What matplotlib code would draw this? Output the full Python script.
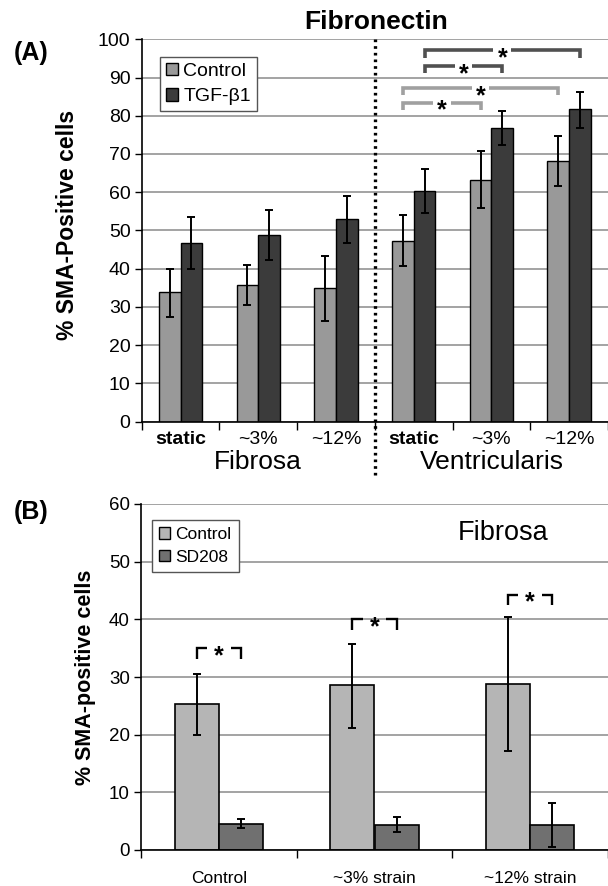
import numpy as np
import matplotlib
matplotlib.use("Agg")
import matplotlib.pyplot as plt
import matplotlib.transforms as mtransforms
from matplotlib.patches import Patch

plt.rcParams['font.family'] = ['Liberation Sans', 'DejaVu Sans']

# # data, panel A (Fibronectin)
cats_a = ['static', '~3%', '~12%', 'static', '~3%', '~12%']
ctrl_a = [33.8, 35.8, 35.0, 47.2, 63.3, 68.2]
ctrl_a_lo = [27.3, 30.5, 26.3, 40.6, 55.8, 61.7]
ctrl_a_hi = [39.8, 41.0, 43.3, 53.9, 70.7, 74.6]
tgf_a = [46.8, 48.9, 53.1, 60.3, 76.9, 81.8]
tgf_a_lo = [40.0, 42.3, 46.7, 54.5, 72.3, 76.8]
tgf_a_hi = [53.5, 55.3, 59.0, 66.0, 81.3, 86.3]
groups_a = ['Fibrosa', 'Ventricularis']

# brackets: (from index, to index, series, y top)
brackets_a = [(3, 5, 'tgf', 97.1), (3, 4, 'tgf', 93.0),
              (3, 5, 'ctrl', 87.3), (3, 4, 'ctrl', 83.4)]

# # data, panel B (Fibrosa, SD208)
cats_b = ['Control', '~3% strain', '~12% strain']
ctrl_b = [25.3, 28.6, 28.8]
ctrl_b_lo = [19.9, 21.2, 17.1]
ctrl_b_hi = [30.5, 35.8, 40.4]
sd_b = [4.5, 4.4, 4.4]
sd_b_lo = [3.8, 3.2, 0.6]
sd_b_hi = [5.3, 5.7, 8.2]
brackets_b = [35.0, 40.0, 44.3]

W, H = 608, 886
fig = plt.figure(figsize=(W/100, H/100), dpi=100)

def px_axes(x0, y0, x1, y1):
    return fig.add_axes([x0/W, 1-y1/H, (x1-x0)/W, (y1-y0)/H])

def style_axes(ax, fs):
    ax.spines['top'].set_visible(False)
    ax.spines['right'].set_visible(False)
    ax.spines['left'].set_linewidth(1.2)
    ax.spines['bottom'].set_linewidth(1.2)
    ax.yaxis.grid(True, color='#8a8a8a', lw=1.1)
    ax.set_axisbelow(True)
    ax.tick_params(axis='y', direction='out', length=5, width=1, labelsize=fs, pad=3)
    ax.tick_params(axis='x', which='major', length=0)
    ax.tick_params(axis='x', which='minor', direction='out', length=6, width=1)

def err(ax, xs, vals, lo, hi):
    for xi, v, l, h in zip(xs, vals, lo, hi):
        ax.errorbar(xi, v, yerr=[[v-l], [h-v]], color='black', lw=1.4,
                    capsize=3.2, capthick=1.4, zorder=3)

def bracket(ax, x0, x1, yt, drop, gap, col, lw, fs):
    xm = (x0 + x1) / 2.0
    ax.plot([x0, x0, xm - gap/2], [yt - drop, yt, yt], color=col, lw=lw, zorder=3,
            solid_joinstyle='miter', solid_capstyle='butt')
    ax.plot([xm + gap/2, x1, x1], [yt, yt, yt - drop], color=col, lw=lw, zorder=3,
            solid_joinstyle='miter', solid_capstyle='butt')
    # asterisk glyph sits high in its em box, so put the baseline below the line
    tr = mtransforms.offset_copy(ax.transData, fig=fig, x=0, y=-0.6*fs, units='points')
    ax.text(xm, yt, '*', ha='center', va='baseline', fontsize=fs, fontweight='bold',
            transform=tr, zorder=4)

# ---------- panel A ----------
A_left, A_top, A_bot = 141.7, 39.3, 421.5
catw_a = 79.0
axA = px_axes(A_left, A_top, W, A_bot)
style_axes(axA, 14)
x = np.arange(len(cats_a))
bw = 0.28
off = 0.14
axA.bar(x - off, ctrl_a, bw, color='#999999', edgecolor='black', lw=1, zorder=2)
axA.bar(x + off, tgf_a, bw, color='#3b3b3b', edgecolor='black', lw=1, zorder=2)
err(axA, x - off, ctrl_a, ctrl_a_lo, ctrl_a_hi)
err(axA, x + off, tgf_a, tgf_a_lo, tgf_a_hi)
axA.set_ylim(0, 100)
axA.set_yticks(np.arange(0, 101, 10))
axA.set_xlim(-0.5, -0.5 + (W - A_left)/catw_a)
axA.set_xticks(x)
axA.set_xticklabels(cats_a, fontsize=14)
for lbl in axA.get_xticklabels():
    if lbl.get_text() == 'static':
        lbl.set_fontweight('bold')
axA.set_xticks(np.arange(-0.5, 6.0, 1), minor=True)
axA.tick_params(axis='x', pad=7)

for gi, g in enumerate(groups_a):
    axA.text(1 + 3*gi, -10.5, g, ha='center', va='center', fontsize=19)

# dotted divider
axA.plot([2.5, 2.5], [100, -14.3], ls=(0, (0.8, 1.2)), color='black', lw=2.4,
         clip_on=False, zorder=4)
fig.text(376/W, 1-22/H, 'Fibronectin', ha='center', va='center', fontsize=19, fontweight='bold')

for i0, i1, s, yt in brackets_a:
    o = off if s == 'tgf' else -off
    col = '#505050' if s == 'tgf' else '#a0a0a0'
    bracket(axA, i0 + o, i1 + o, yt, 1.9, 0.23, col, 2.6, 18)

legA = axA.legend(handles=[Patch(facecolor='#999999', edgecolor='black', label='Control'),
                           Patch(facecolor='#3b3b3b', edgecolor='black', label='TGF-β1')],
                  loc='upper left', bbox_to_anchor=((160-A_left)/(W-A_left), 1-(56.7-A_top)/(A_bot-A_top)),
                  fontsize=14, frameon=True, fancybox=False, edgecolor='#555555', framealpha=1,
                  handlelength=0.6, handleheight=0.6, handletextpad=0.3,
                  borderpad=0.3, labelspacing=0.45, borderaxespad=0)
legA.get_frame().set_linewidth(1)

fig.text(68/W, 1-225/H, '% SMA-Positive cells', rotation=90, ha='center', va='center',
         fontsize=16.5, fontweight='bold')
fig.text(14/W, 1-53/H, '(A)', fontsize=18, fontweight='bold', va='center', ha='left')

# ---------- panel B ----------
B_left, B_top, B_bot = 141.0, 504.0, 850.0
catw_b = 157.4
axB = px_axes(B_left, B_top, W, B_bot)
style_axes(axB, 13.5)
xb = np.arange(len(cats_b))
bwb = 0.283
offb = 0.1415
axB.bar(xb - offb, ctrl_b, bwb, color='#b5b5b5', edgecolor='black', lw=1.2, zorder=2)
axB.bar(xb + offb, sd_b, bwb, color='#707070', edgecolor='black', lw=1.2, zorder=2)
err(axB, xb - offb, ctrl_b, ctrl_b_lo, ctrl_b_hi)
err(axB, xb + offb, sd_b, sd_b_lo, sd_b_hi)
axB.set_ylim(0, 60)
axB.set_yticks(np.arange(0, 61, 10))
axB.set_xlim(-0.5, -0.5 + (W - B_left)/catw_b)
axB.set_xticks(xb)
axB.set_xticklabels(cats_b, fontsize=12.5)
axB.set_xticks(np.arange(-0.5, 3.0, 1), minor=True)
axB.tick_params(axis='x', pad=15)

for xi, yt in zip(xb, brackets_b):
    bracket(axB, xi - offb, xi + offb, yt, 1.9, 0.15, 'black', 1.7, 18)

axB.text((507.6-B_left)/catw_b - 0.5, 55.0, 'Fibrosa', ha='center', va='center', fontsize=19.5)

legB = axB.legend(handles=[Patch(facecolor='#b5b5b5', edgecolor='black', label='Control'),
                           Patch(facecolor='#707070', edgecolor='black', label='SD208')],
                  loc='upper left', bbox_to_anchor=((152-B_left)/(W-B_left), 1-(520-B_top)/(B_bot-B_top)),
                  fontsize=12.5, frameon=True, fancybox=False, edgecolor='#555555', framealpha=1,
                  handlelength=0.65, handleheight=0.65, handletextpad=0.3,
                  borderpad=0.4, labelspacing=0.45, borderaxespad=0)
legB.get_frame().set_linewidth(1)

fig.text(86/W, 1-677/H, '% SMA-positive cells', rotation=90, ha='center', va='center',
         fontsize=15.5, fontweight='bold')
fig.text(14/W, 1-512/H, '(B)', fontsize=18, fontweight='bold', va='center', ha='left')

fig.savefig('out.png', dpi=100)
